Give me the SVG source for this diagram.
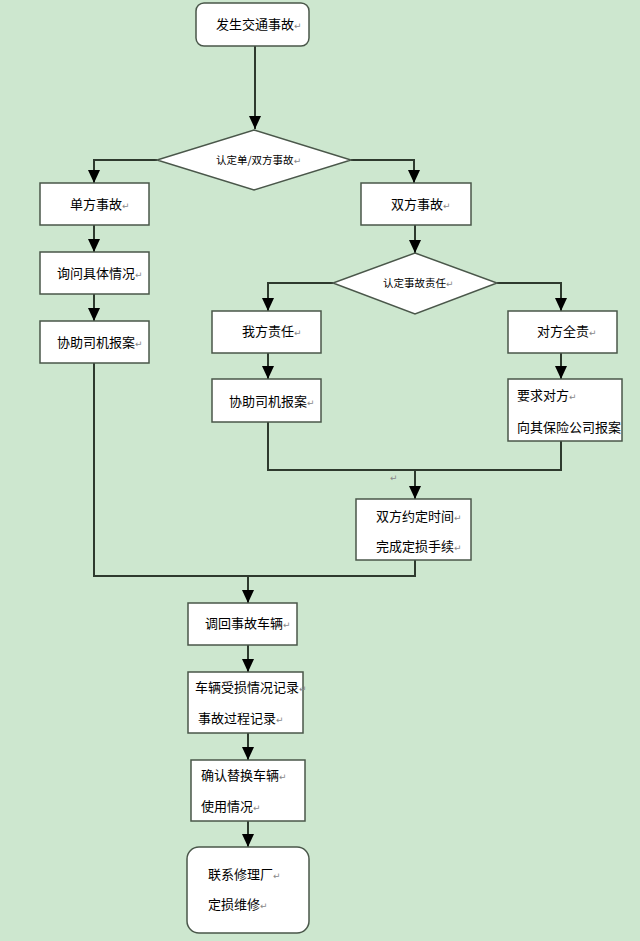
<svg xmlns="http://www.w3.org/2000/svg" width="640" height="941" viewBox="0 0 640 941">
<style>
.bx{fill:#fff;stroke:#4a574a;stroke-width:1.5}
.cn{fill:none;stroke:#2e3a2e;stroke-width:2}
.t{font-family:"Noto Sans CJK SC","Noto Sans",sans-serif;font-size:13px;fill:#000}
.d{font-family:"Noto Sans CJK SC","Noto Sans",serif;font-size:10.5px;fill:#000}
.r{font-family:"DejaVu Sans",sans-serif;font-size:9px;fill:#888}
</style>
<defs>
<marker id="ah" markerUnits="userSpaceOnUse" markerWidth="13" markerHeight="12" viewBox="0 0 13 12" refX="13" refY="6" orient="auto">
<path d="M0,0 L13,6 L0,12 z" fill="#000"/>
</marker>
</defs>
<rect width="640" height="941" fill="#cde7cf"/>
<g id="connectors">
<path class="cn" d="M255,46 V129" marker-end="url(#ah)"/>
<path class="cn" d="M157,160 H94 V183" marker-end="url(#ah)"/>
<path class="cn" d="M351,160 H414 V183" marker-end="url(#ah)"/>
<path class="cn" d="M94,225 V252" marker-end="url(#ah)"/>
<path class="cn" d="M94,294 V321" marker-end="url(#ah)"/>
<path class="cn" d="M415,225 V253" marker-end="url(#ah)"/>
<path class="cn" d="M333,283 H268 V311" marker-end="url(#ah)"/>
<path class="cn" d="M497,283 H561 V311" marker-end="url(#ah)"/>
<path class="cn" d="M268,353 V379" marker-end="url(#ah)"/>
<path class="cn" d="M561,353 V379" marker-end="url(#ah)"/>
<path class="cn" d="M268,421 V470 H561 V441"/>
<path class="cn" d="M415,470 V499" marker-end="url(#ah)"/>
<path class="cn" d="M94,363 V576 H415 V560"/>
<path class="cn" d="M248,576 V603" marker-end="url(#ah)"/>
<path class="cn" d="M248,645 V672" marker-end="url(#ah)"/>
<path class="cn" d="M248,733 V760" marker-end="url(#ah)"/>
<path class="cn" d="M248,821 V847" marker-end="url(#ah)"/>
<text class="r" x="390" y="481">↵</text>
</g>
<g id="n1"><rect class="bx" x="196" y="3" width="113" height="43" rx="8"/><text class="t" x="216" y="29">发生交通事故<tspan class="r">↵</tspan></text></g>
<g id="d1"><polygon class="bx" points="254,130 351,160 254,190 157,160"/><text class="d" x="216" y="164">认定单/双方事故<tspan class="r">↵</tspan></text></g>
<g id="n2"><rect class="bx" x="40" y="183" width="109" height="42"/><text class="t" x="70" y="209">单方事故<tspan class="r">↵</tspan></text></g>
<g id="n3"><rect class="bx" x="361" y="183" width="110" height="42"/><text class="t" x="391" y="209">双方事故<tspan class="r">↵</tspan></text></g>
<g id="n4"><rect class="bx" x="40" y="252" width="109" height="42"/><text class="t" x="57" y="278">询问具体情况<tspan class="r">↵</tspan></text></g>
<g id="n5"><rect class="bx" x="40" y="321" width="109" height="42"/><text class="t" x="57" y="347">协助司机报案<tspan class="r">↵</tspan></text></g>
<g id="d2"><polygon class="bx" points="415,253 497,283 415,314 333,283"/><text class="d" x="383" y="287">认定事故责任<tspan class="r">↵</tspan></text></g>
<g id="n6"><rect class="bx" x="212" y="311" width="109" height="42"/><text class="t" x="242" y="336">我方责任<tspan class="r">↵</tspan></text></g>
<g id="n7"><rect class="bx" x="508" y="311" width="109" height="42"/><text class="t" x="537" y="336">对方全责<tspan class="r">↵</tspan></text></g>
<g id="n8"><rect class="bx" x="212" y="379" width="109" height="43"/><text class="t" x="229" y="406">协助司机报案<tspan class="r">↵</tspan></text></g>
<g id="n9"><rect class="bx" x="508" y="379" width="114" height="62"/><text class="t" x="517" y="400">要求对方<tspan class="r">↵</tspan></text><text class="t" x="517" y="432">向其保险公司报案</text></g>
<g id="n10"><rect class="bx" x="356" y="499" width="115" height="61"/><text class="t" x="376" y="521">双方约定时间<tspan class="r">↵</tspan></text><text class="t" x="376" y="551">完成定损手续<tspan class="r">↵</tspan></text></g>
<g id="n11"><rect class="bx" x="188" y="603" width="109" height="42"/><text class="t" x="205" y="628">调回事故车辆<tspan class="r">↵</tspan></text></g>
<g id="n12"><rect class="bx" x="188" y="672" width="115" height="61"/><text class="t" x="195" y="692">车辆受损情况记录<tspan class="r">↵</tspan></text><text class="t" x="198" y="723">事故过程记录<tspan class="r">↵</tspan></text></g>
<g id="n13"><rect class="bx" x="191" y="760" width="114" height="61"/><text class="t" x="201" y="780">确认替换车辆<tspan class="r">↵</tspan></text><text class="t" x="201" y="811">使用情况<tspan class="r">↵</tspan></text></g>
<g id="n14"><rect class="bx" x="187" y="847" width="122" height="86" rx="12"/><text class="t" x="208" y="879">联系修理厂<tspan class="r">↵</tspan></text><text class="t" x="208" y="909">定损维修<tspan class="r">↵</tspan></text></g>
</svg>
